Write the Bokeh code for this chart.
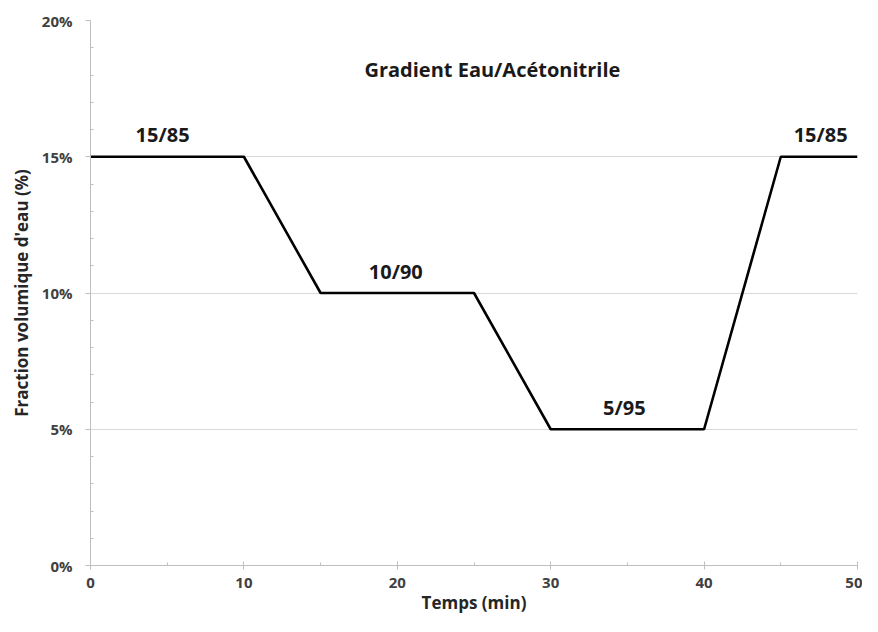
from bokeh.plotting import figure
from bokeh.models import FixedTicker, Range1d
from bokeh.core.properties import value
from bokeh.embed import file_html
from bokeh.resources import INLINE

# Data
time_min = [0, 10, 15, 25, 30, 40, 45, 50]
water_pct = [15, 15, 10, 10, 5, 5, 15, 15]

label_texts = ["15/85", "10/90", "5/95", "15/85"]
label_x = [4.7, 19.9, 34.8, 47.6]
label_y = [15.8, 10.8, 5.8, 15.8]

title_text = "Gradient Eau/Acétonitrile"
title_x = 26.2
title_y = 18.2

x_ticks = [0, 10, 20, 30, 40, 50]
x_minor = [5, 15, 25, 35, 45]
y_ticks = [0, 5, 10, 15, 20]
y_tick_labels = ["0%", "5%", "10%", "15%", "20%"]
y_minor = [1, 2, 3, 4, 6, 7, 8, 9, 11, 12, 13, 14, 16, 17, 18, 19]

FONT = "Open Sans"

p = figure(width=862, height=616, output_backend="svg", toolbar_location=None,
           x_range=Range1d(0, 50), y_range=Range1d(0, 20),
           min_border_left=90, min_border_right=5, min_border_top=20, min_border_bottom=46)
p.outline_line_color = None
p.background_fill_color = "white"
p.border_fill_color = "white"

p.line(time_min, water_pct, line_color="black", line_width=2.6)

p.text(x=label_x, y=label_y, text=label_texts, text_font=value(FONT), text_font_style="bold",
       text_font_size="20px", text_align="center", text_baseline="middle", text_color="#1a1a1a")
p.text(x=[title_x], y=[title_y], text=[title_text], text_font=value(FONT), text_font_style="bold",
       text_font_size="20px", text_align="center", text_baseline="middle", text_color="#1a1a1a")

# X axis
xa = p.xaxis[0]
xa.ticker = FixedTicker(ticks=x_ticks, minor_ticks=x_minor)
xa.axis_line_color = "#bfbfbf"
xa.major_tick_line_color = "#bfbfbf"
xa.minor_tick_line_color = "#bfbfbf"
xa.major_tick_in = 4
xa.major_tick_out = 4
xa.minor_tick_in = 3
xa.minor_tick_out = 0
xa.major_label_standoff = 8
xa.major_label_text_font = FONT
xa.major_label_text_font_style = "bold"
xa.major_label_text_font_size = "15px"
xa.major_label_text_color = "#404040"
xa.axis_label = "Temps (min)"
xa.axis_label_text_font = FONT
xa.axis_label_text_font_style = "bold"
xa.axis_label_text_font_size = "17px"
xa.axis_label_text_color = "#262626"
xa.axis_label_standoff = 0

# Y axis
ya = p.yaxis[0]
ya.ticker = FixedTicker(ticks=y_ticks, minor_ticks=y_minor)
ya.major_label_overrides = {t: l for t, l in zip(y_ticks, y_tick_labels)}
ya.axis_line_color = "#bfbfbf"
ya.major_tick_line_color = "#bfbfbf"
ya.minor_tick_line_color = "#bfbfbf"
ya.major_tick_in = 0
ya.major_tick_out = 5
ya.minor_tick_in = 3
ya.minor_tick_out = 0
ya.major_label_standoff = 13
ya.major_label_text_font = FONT
ya.major_label_text_font_style = "bold"
ya.major_label_text_font_size = "15px"
ya.major_label_text_color = "#404040"
ya.axis_label = "Fraction volumique d'eau (%)"
ya.axis_label_text_font = FONT
ya.axis_label_text_font_style = "bold"
ya.axis_label_text_font_size = "17px"
ya.axis_label_text_color = "#262626"
ya.axis_label_standoff = 6

p.xgrid.grid_line_color = None
p.ygrid.ticker = FixedTicker(ticks=y_ticks)
p.ygrid.grid_line_color = "#d9d9d9"
p.ygrid.grid_line_width = 1

open("out.html", "w").write(file_html(p, INLINE))
